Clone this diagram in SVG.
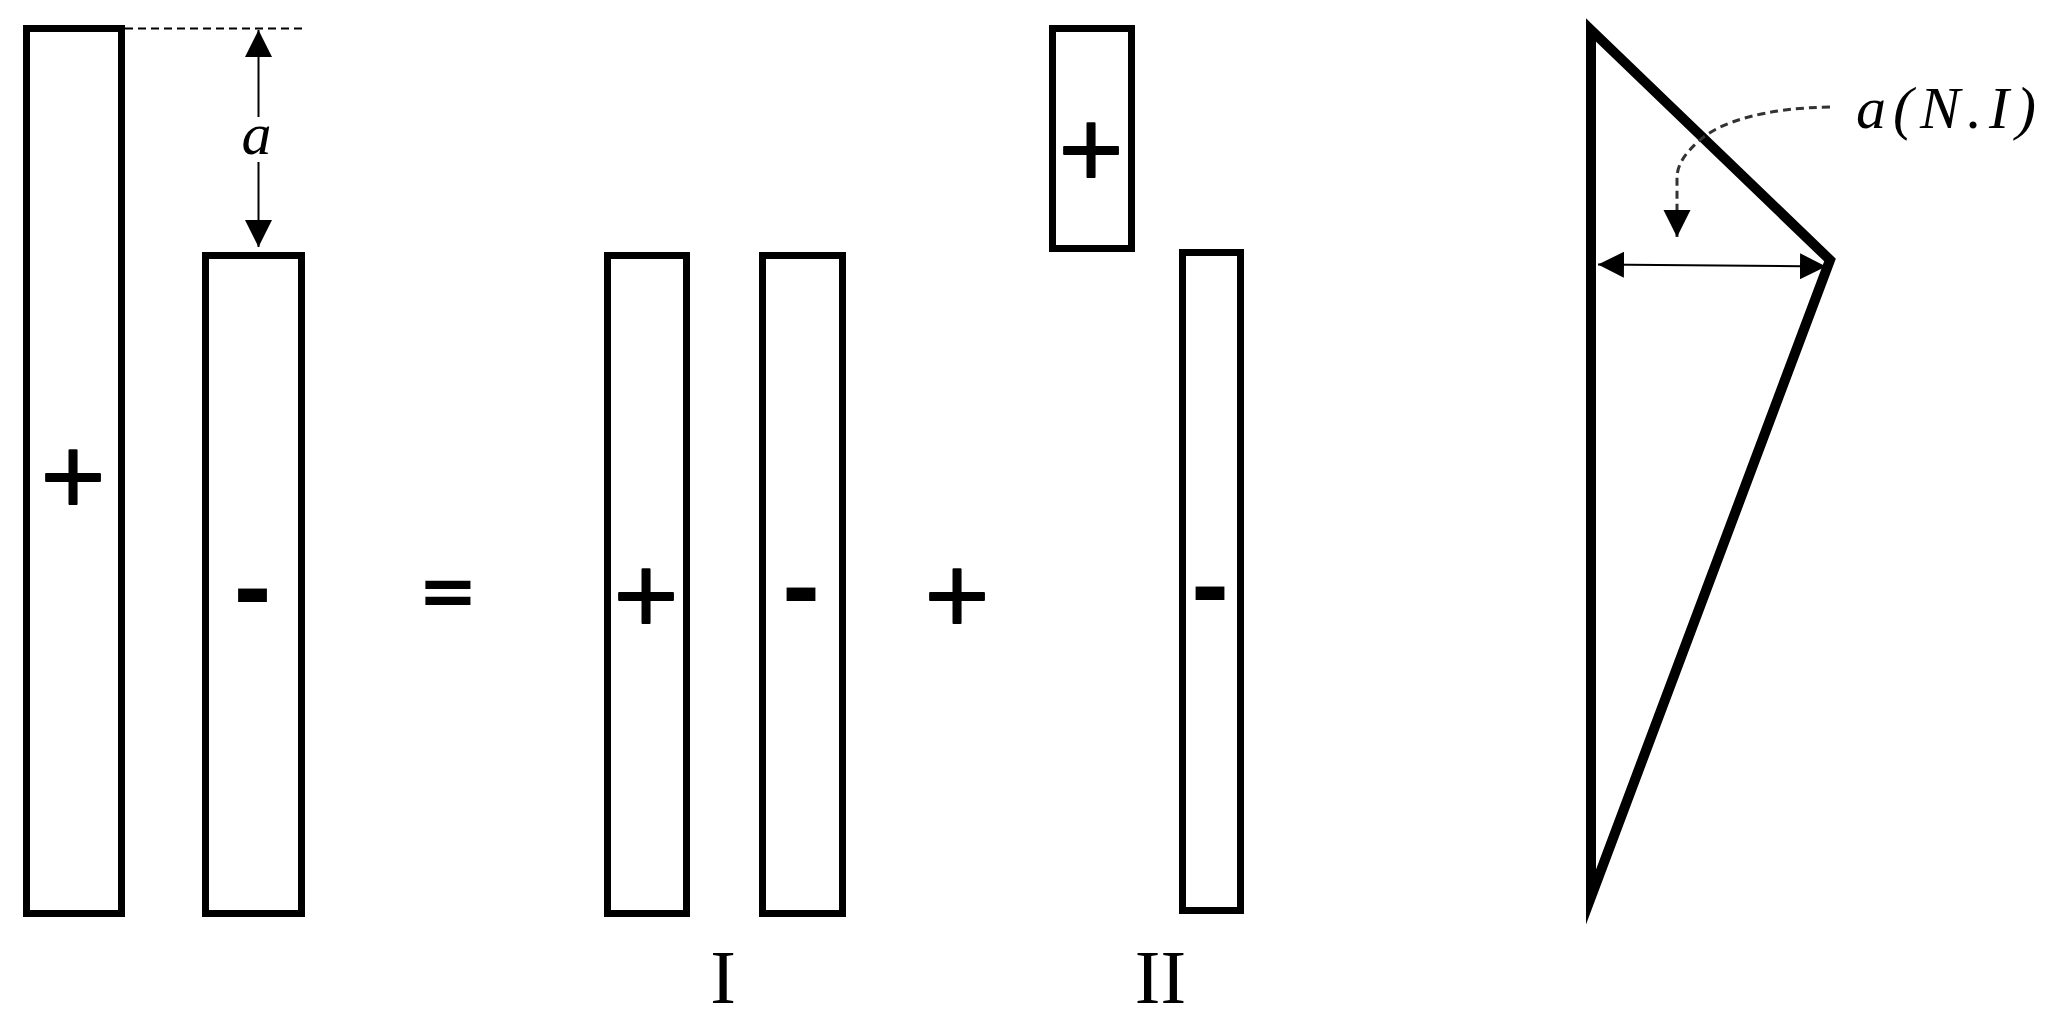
<svg xmlns="http://www.w3.org/2000/svg" width="2059" height="1025" viewBox="0 0 2059 1025">
<style>
.box{fill:#fff;stroke:#000;stroke-width:7}
.plus{font-family:"DejaVu Sans",sans-serif;font-size:86px;text-anchor:middle;fill:#000;stroke:#000;stroke-width:2;stroke-linejoin:round}
.minus{font-family:"DejaVu Sans",sans-serif;font-weight:bold;font-size:94px;text-anchor:middle;fill:#000}
.eq{font-family:"DejaVu Sans",sans-serif;font-weight:bold;font-size:72px;text-anchor:middle;fill:#000}
.math{font-family:"Liberation Serif",serif;font-style:italic;font-size:60px;fill:#000}
.roman{font-family:"Liberation Serif",serif;font-size:77px;text-anchor:middle;fill:#000}
.thin{stroke:#000;stroke-width:2;fill:none}
</style>
<defs>
<marker id="ah" markerUnits="userSpaceOnUse" markerWidth="28" markerHeight="28" refX="27" refY="13.5" orient="auto-start-reverse" viewBox="0 0 28 28">
<path d="M0,0 L27,13.5 L0,27 Z" fill="#000"/>
</marker>
<marker id="ahs" markerUnits="userSpaceOnUse" markerWidth="27" markerHeight="26" refX="26" refY="13" orient="auto-start-reverse" viewBox="0 0 27 26">
<path d="M0,0 L26,13 L0,26 Z" fill="#000"/>
</marker>
<marker id="ahd" markerUnits="userSpaceOnUse" markerWidth="28" markerHeight="28" refX="27" refY="13.5" orient="auto" viewBox="0 0 28 28">
<path d="M0,0 L27,13.5 L0,27 Z" fill="#000"/>
</marker>
</defs>

<g id="bar-big-plus">
<rect class="box" x="26.5" y="28.5" width="95" height="885"/>
<text class="plus" x="73" y="504">+</text>
</g>
<g id="bar-minus">
<rect class="box" x="205.5" y="255.5" width="96" height="658"/>
<text class="minus" x="252.5" y="623">-</text>
</g>
<g id="equals">
<text class="eq" x="448" y="615">=</text>
</g>
<g id="bar-I-plus">
<rect class="box" x="607.5" y="255.5" width="79" height="658"/>
<text class="plus" x="646" y="623">+</text>
</g>
<g id="bar-I-minus">
<rect class="box" x="762.5" y="255.5" width="80" height="658"/>
<text class="minus" x="801" y="622">-</text>
</g>
<g id="plus-op">
<text class="plus" x="957" y="623">+</text>
</g>
<g id="bar-II-plus">
<rect class="box" x="1052.5" y="28.5" width="79" height="220"/>
<text class="plus" x="1091" y="177">+</text>
</g>
<g id="bar-II-minus">
<rect class="box" x="1182.5" y="252.5" width="58" height="658"/>
<text class="minus" x="1210" y="621">-</text>
</g>
<g id="label-I"><text class="roman" x="723" y="1003">I</text></g>
<g id="label-II"><text class="roman" x="1160.5" y="1003">II</text></g>

<g id="triangle">
<polygon points="1591,30 1830,260 1591,897" fill="none" stroke="#000" stroke-width="10" stroke-linejoin="miter" stroke-miterlimit="10"/>
</g>
<g id="label-a"><text class="math" x="256.5" y="154" text-anchor="middle">a</text></g>
<g id="label-aNI"><text class="math" x="1856" y="128" font-size="63" textLength="180" lengthAdjust="spacing">a(N.I)</text></g>

<g id="connectors">
<line x1="125" y1="28.5" x2="305" y2="28.5" stroke="#000" stroke-width="2" stroke-dasharray="8,5"/>
<line class="thin" x1="258.5" y1="117" x2="258.5" y2="30" marker-end="url(#ah)"/>
<line class="thin" x1="258.5" y1="162" x2="258.5" y2="247" marker-end="url(#ah)"/>
<line class="thin" x1="1598" y1="264.5" x2="1826" y2="266.5" marker-start="url(#ahs)" marker-end="url(#ahs)"/>
<path d="M1830,107 C1765,108 1720,122 1700,140 C1685,153 1677,165 1677,178 L1677,237" fill="none" stroke="#333" stroke-width="3" stroke-dasharray="8,5" marker-end="url(#ahd)"/>
</g>
</svg>
